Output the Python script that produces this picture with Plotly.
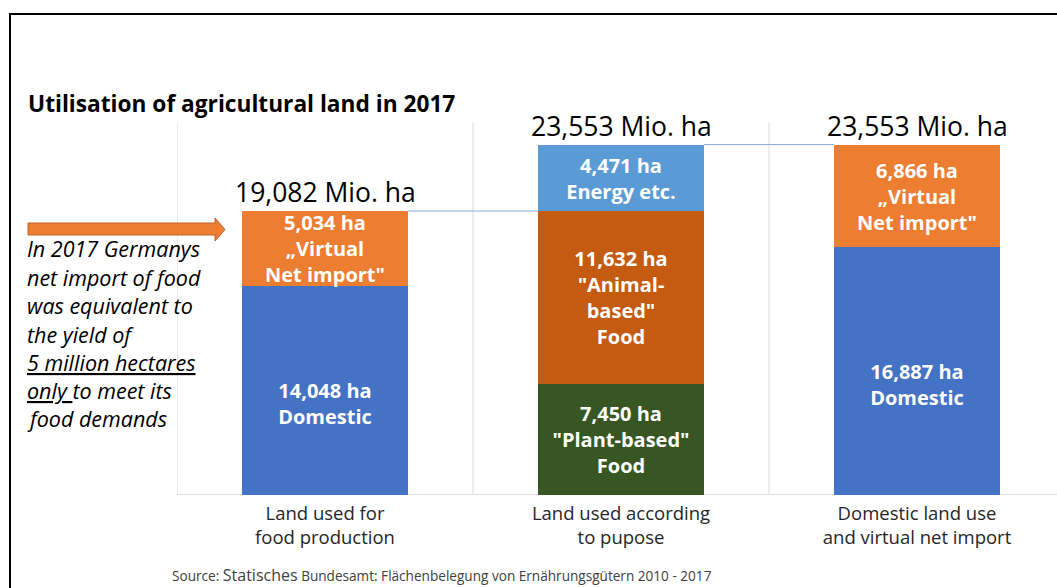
import plotly.graph_objects as go

# ---------------- data ----------------
categories = ["Land used for<br>food production",
              "Land used according<br>to pupose",
              "Domestic land use<br>and virtual net import"]
cat_pos = [0, 1, 2]

domestic_x = [0, 2]
domestic_vals = [14.048, 16.687]
domestic_text = ["\u00a0<br>14,048 ha<br>Domestic", "\u00a0<br>16,887 ha<br>Domestic"]

import_x = [0, 2]
import_vals = [5.034, 6.866]
import_text = ["5,034 ha<br>\u201eVirtual<br>Net import\"", "6,866 ha<br>\u201eVirtual<br>Net import\""]

plant_x = [1]
plant_vals = [7.450]
plant_text = ["7,450 ha<br>\"Plant-based\"<br>Food"]

animal_x = [1]
animal_vals = [11.632]
animal_text = ["11,632 ha<br>\"Animal-<br>based\"<br>Food"]

energy_x = [1]
energy_vals = [4.471]
energy_text = ["4,471 ha<br>Energy etc."]

totals = [19.082, 23.553, 23.553]
total_labels = ["19,082 Mio. ha", "23,553 Mio. ha", "23,553 Mio. ha"]

note_lines = ["In 2017 Germanys", "net import of food", "was equivalent to",
              "the yield of", "<u>5 million hectares</u>", "<u>only </u>to meet its",
              "food demands"]

title_text = "<b>Utilisation of agricultural land in 2017</b>"
source_text = ("Source: <span style='font-size:16px'>Statisches</span> "
               "Bundesamt: Flächenbelegung von Ernährungsgütern 2010 - 2017")

# ---------------- style ----------------
W, H = 1057, 588
ML, MR, MT, MB = 177, 0, 123, 93
PW, PH = W - ML - MR, H - MT - MB
FONT = "Open Sans"
BAR_W = 0.56
XR = [-0.5, -0.5 + PW / 296.0]
YR = [0, 25]


def px(X):
    return (X - ML) / PW


def py(Y):
    return (H - MB - Y) / PH


inside_font = dict(family=FONT, size=20, color="white")


def bar(x, y, text, color, name):
    return go.Bar(x=x, y=y, text=text, name=name, marker=dict(color=color, line=dict(width=0)),
                  width=BAR_W, textposition="inside", insidetextanchor="middle",
                  textangle=0, constraintext="none", textfont=inside_font,
                  texttemplate="<b>%{text}</b>", hoverinfo="skip", cliponaxis=False)


fig = go.Figure()
fig.add_trace(bar(domestic_x, domestic_vals, domestic_text, "#4472C4", "Domestic"))
fig.add_trace(bar(import_x, import_vals, import_text, "#ED7D31", "Virtual net import"))
fig.add_trace(bar(plant_x, plant_vals, plant_text, "#375623", "Plant-based"))
fig.add_trace(bar(animal_x, animal_vals, animal_text, "#C55A11", "Animal-based"))
fig.add_trace(bar(energy_x, energy_vals, energy_text, "#5B9BD5", "Energy etc."))

shapes = []
# vertical separators
for xv in [-0.5, 0.5, 1.5, 2.5]:
    shapes.append(dict(type="line", xref="x", yref="y", x0=xv, x1=xv, y0=YR[0], y1=YR[1],
                       line=dict(color="#D9D9D9", width=1), layer="below"))
# baseline
shapes.append(dict(type="line", xref="x", yref="y", x0=-0.5, x1=2.5, y0=0, y1=0,
                   line=dict(color="#D9D9D9", width=1.3), layer="below"))
# series (connector) lines
for i in range(len(cat_pos) - 1):
    shapes.append(dict(type="line", xref="x", yref="y",
                       x0=cat_pos[i] + BAR_W / 2, x1=cat_pos[i + 1] - BAR_W / 2,
                       y0=totals[i], y1=totals[i],
                       line=dict(color="#8FAADC", width=1), layer="above"))
# frame (left and top lines)
shapes.append(dict(type="path", xref="paper", yref="paper",
                   path=f"M {px(10)} {py(600)} L {px(10)} {py(14)} L {px(1070)} {py(14)}",
                   line=dict(color="black", width=2)))
# arrow
ax = [28, 215, 215, 225, 215, 215, 28]
ay = [223, 223, 218, 229.5, 241, 235, 235]
path = "M " + " L ".join(f"{px(a)} {py(b)}" for a, b in zip(ax, ay)) + " Z"
shapes.append(dict(type="path", xref="paper", yref="paper", path=path,
                   fillcolor="#ED7D31", line=dict(color="#C0622A", width=1)))

annotations = []
for x, t, lab in zip(cat_pos, totals, total_labels):
    annotations.append(dict(x=x, y=t, xref="x", yref="y", text=lab, showarrow=False,
                            yanchor="bottom", xanchor="center", yshift=-1,
                            font=dict(family=FONT, size=26.5, color="black")))
note_y = [248, 277, 305, 334, 362, 390, 418]
for line, yy in zip(note_lines, note_y):
    annotations.append(dict(x=px(25), y=py(yy), xref="paper", yref="paper", text=f"<i>{line}</i>",
                            showarrow=False, xanchor="left", yanchor="middle",
                            font=dict(family=FONT, size=21.5, color="black")))
annotations.append(dict(x=px(26), y=py(103), xref="paper", yref="paper", text=title_text,
                        showarrow=False, xanchor="left", yanchor="middle",
                        font=dict(family=FONT, size=22.7, color="black")))
annotations.append(dict(x=px(170), y=py(575), xref="paper", yref="paper", text=source_text,
                        showarrow=False, xanchor="left", yanchor="middle",
                        font=dict(family=FONT, size=13.6, color="#404040")))

fig.update_layout(
    width=W, height=H, margin=dict(l=ML, r=MR, t=MT, b=MB, autoexpand=False),
    barmode="stack", showlegend=False, bargap=0,
    plot_bgcolor="white", paper_bgcolor="white",
    xaxis=dict(range=XR, tickvals=cat_pos, ticktext=categories, showgrid=False,
               zeroline=False, showline=False, ticks="", fixedrange=True,
               ticklabelstandoff=5,
               tickfont=dict(family=FONT, size=18.5, color="#262626")),
    yaxis=dict(range=YR, visible=False, showgrid=False, zeroline=False, fixedrange=True),
    shapes=shapes, annotations=annotations,
)

fig.write_html("out.html", config={"displayModeBar": False},
               post_script="document.body.style.margin='0';document.body.style.overflow='hidden';")
